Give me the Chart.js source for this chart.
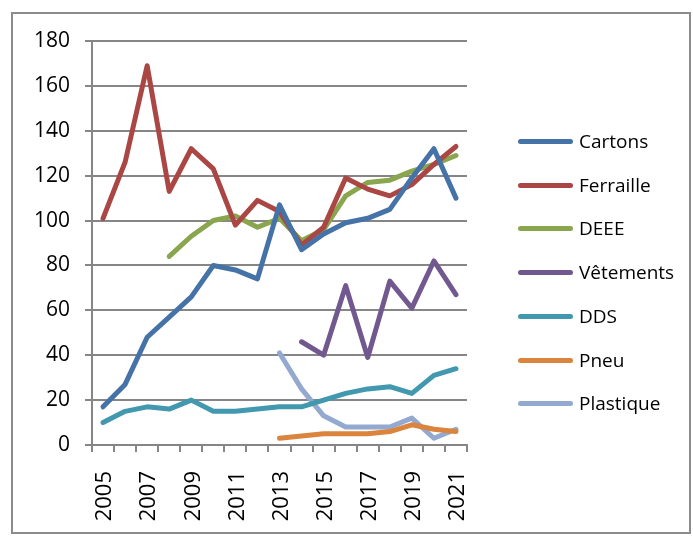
<!DOCTYPE html>
<html>
<head>
<meta charset="utf-8">
<script src="https://cdn.jsdelivr.net/npm/chart.js@4"></script>
<style>
    body { margin: 0; background: #ffffff; }
    #frame { position: absolute; left: 11px; top: 12px; width: 676px; height: 518px; border: 2px solid #8c8c8c; }
    #wrap { position: absolute; left: 0; top: 0; width: 693px; height: 540px; }
    #legend { position: absolute; left: 515px; top: 0; font-family: "Open Sans", sans-serif; font-size: 19px; color: #000; }
    .item { position: absolute; left: 0; height: 26px; line-height: 26px; white-space: nowrap; }
    .swatch { position: absolute; left: 3px; top: 10px; width: 55px; height: 5px; border-radius: 3px; }
    .name { position: absolute; left: 64px; top: -1px; }
</style>
</head>
<body>
<div id="frame"></div>
<div id="wrap"><canvas id="chart" width="693" height="540"></canvas></div>
<div id="legend"></div>
<script>
const years = ['2005', '2006', '2007', '2008', '2009', '2010', '2011', '2012', '2013',
    '2014', '2015', '2016', '2017', '2018', '2019', '2020', '2021'];
const yTicks = [0, 20, 40, 60, 80, 100, 120, 140, 160, 180];

const cartons = [17, 27, 48, 57, 66, 80, 78, 74, 107, 87, 94, 99, 101, 105, 119, 132, 110];
const ferraille = [101, 126, 169, 113, 132, 123, 98, 109, 104, 89, 97, 119, 114, 111, 116, 125, 133];
const deee = [null, null, null, 84, 93, 100, 102, 97, 101, 91, 96, 111, 117, 118, 122, 125, 129];
const vetements = [null, null, null, null, null, null, null, null, null, 46, 40, 71, 39, 73, 61, 82, 67];
const dds = [10, 15, 17, 16, 20, 15, 15, 16, 17, 17, 20, 23, 25, 26, 23, 31, 34];
const pneu = [null, null, null, null, null, null, null, null, 3, 4, 5, 5, 5, 6, 9, 7, 6];
const plastique = [null, null, null, null, null, null, null, null, 41, 25, 13, 8, 8, 8, 12, 3, 7];

const seriesNames = ['Cartons', 'Ferraille', 'DEEE', 'Vêtements', 'DDS', 'Pneu', 'Plastique'];
const seriesData = [cartons, ferraille, deee, vetements, dds, pneu, plastique];
const seriesColors = ['#4572A7', '#AA4643', '#89A54E', '#71588F', '#4198AF', '#DB843D', '#93A9CF'];

const gridGray = '#868686';
const chartLeft = 92, chartBottom = 445;

const datasets = seriesNames.map((name, i) => ({
    label: name,
    data: seriesData[i],
    borderColor: seriesColors[i],
    backgroundColor: seriesColors[i],
    borderWidth: 5,
    borderCapStyle: 'round',
    borderJoinStyle: 'round',
    pointRadius: 0,
    tension: 0,
    fill: false,
}));

new Chart(document.getElementById('chart').getContext('2d'), {
    type: 'line',
    data: { labels: years, datasets },
    options: {
        responsive: false,
        animation: false,
        layout: { padding: { left: 12, top: 41, right: 226, bottom: 8 } },
        plugins: { legend: { display: false }, tooltip: { enabled: false } },
        scales: {
            x: {
                offset: true,
                afterFit: (scale) => { scale.height = 540 - 8 - chartBottom; },
                grid: { offset: true, drawOnChartArea: false, drawTicks: true, tickLength: 7, color: gridGray, lineWidth: 2 },
                border: { color: gridGray, width: 2 },
                ticks: {
                    autoSkip: false,
                    minRotation: 90,
                    maxRotation: 90,
                    padding: 19,
                    labelOffset: 2,
                    color: '#000',
                    font: { family: 'Open Sans', size: 22 },
                    callback: function (value, index) {
                        return index % 2 === 0 ? years[index] : '';
                    },
                },
            },
            y: {
                min: 0,
                max: 180,
                afterFit: (scale) => { scale.width = chartLeft - 12; },
                afterBuildTicks: (scale) => { scale.ticks = yTicks.map(v => ({ value: v })); },
                grid: { color: gridGray, lineWidth: 2, tickLength: 7 },
                border: { color: gridGray, width: 2 },
                ticks: {
                    padding: 15,
                    color: '#000',
                    font: { family: 'Open Sans', size: 21 },
                },
            },
        },
    },
});

// legend on the right, built from the same series arrays
const legendEl = document.getElementById('legend');
const legendTop = 142, legendStep = 43.7;
seriesNames.forEach((name, i) => {
    const item = document.createElement('div');
    item.className = 'item';
    item.style.top = (legendTop + i * legendStep - 13) + 'px';
    item.innerHTML = `<span class="swatch" style="background:${seriesColors[i]}"></span><span class="name">${name}</span>`;
    legendEl.appendChild(item);
});
</script>
</body>
</html>
